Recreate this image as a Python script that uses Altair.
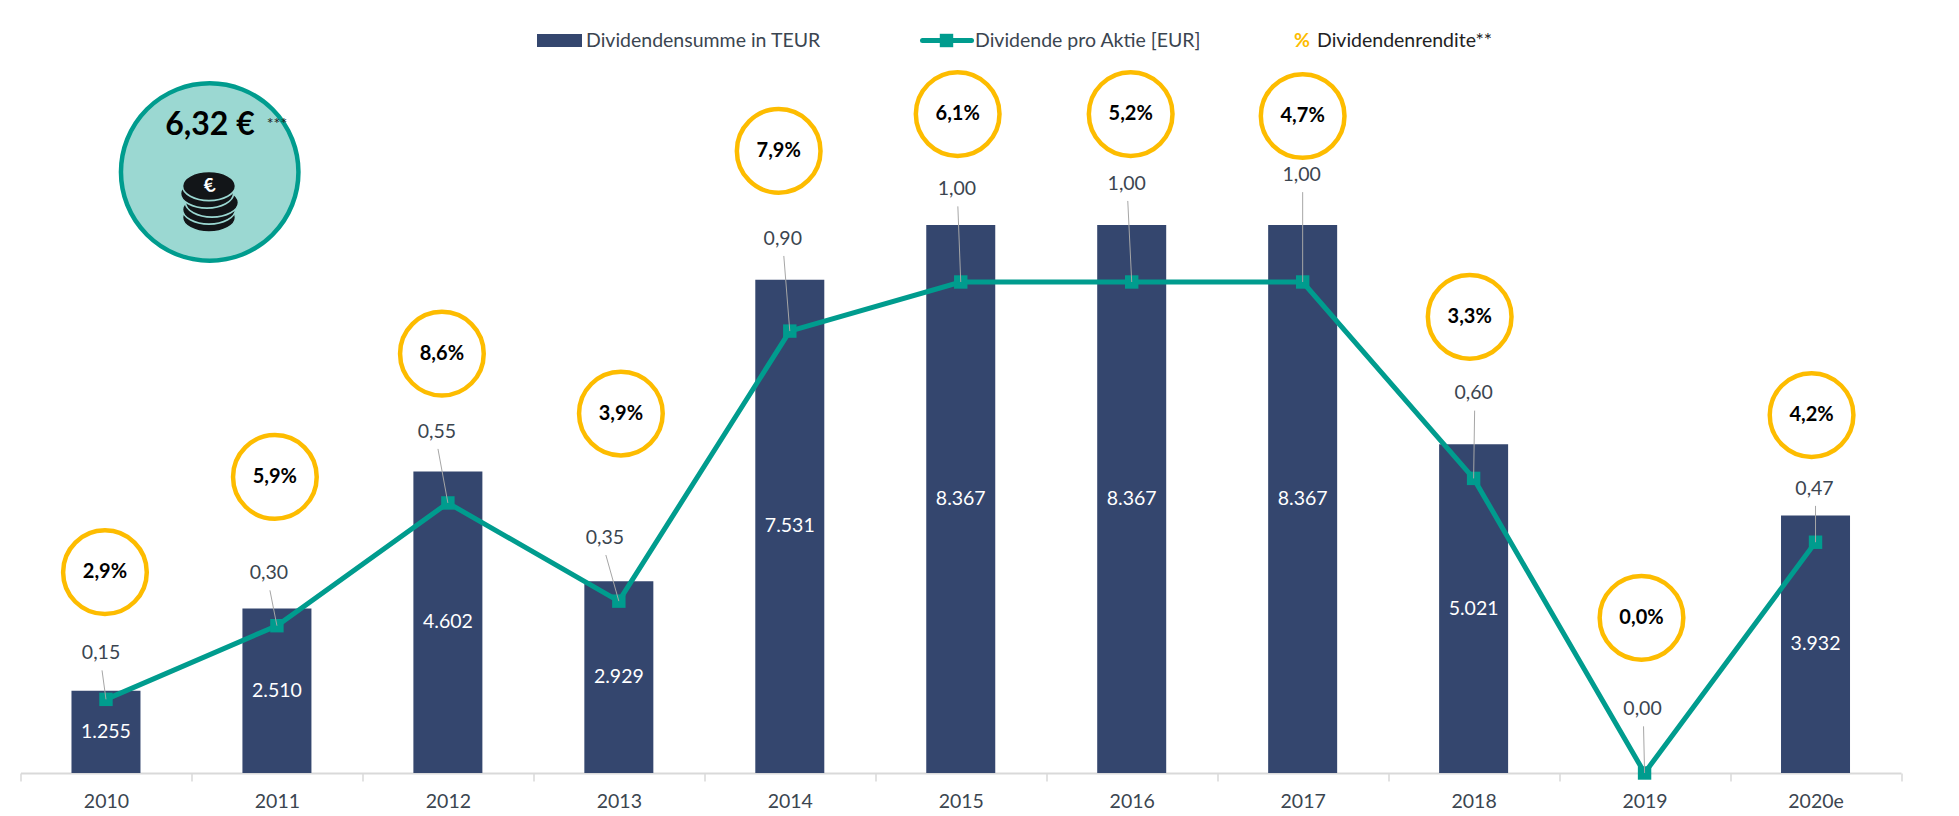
import altair as alt
import pandas as pd

# ---- chart values ----
years = ["2010", "2011", "2012", "2013", "2014", "2015", "2016", "2017", "2018", "2019", "2020e"]
sums = [1255, 2510, 4602, 2929, 7531, 8367, 8367, 8367, 5021, 0, 3932]
sum_labels = ["1.255", "2.510", "4.602", "2.929", "7.531", "8.367", "8.367", "8.367", "5.021", "", "3.932"]
dividends = [0.15, 0.30, 0.55, 0.35, 0.90, 1.00, 1.00, 1.00, 0.60, 0.00, 0.47]
dividend_labels = ["0,15", "0,30", "0,55", "0,35", "0,90", "1,00", "1,00", "1,00", "0,60", "0,00", "0,47"]
yields = ["2,9%", "5,9%", "8,6%", "3,9%", "7,9%", "6,1%", "5,2%", "4,7%", "3,3%", "0,0%", "4,2%"]

# ---- annotation placement, in category units and EUR units ----
badge_x = [-0.006, -0.012, -0.035, 0.012, -0.065, -0.018, -0.006, 0.0, -0.023, -0.018, -0.023]
badge_eur = [0.409, 0.603, 0.854, 0.732, 1.267, 1.342, 1.342, 1.338, 0.929, 0.316, 0.729]
label_x = [-0.029, -0.047, -0.064, -0.082, -0.041, -0.023, -0.029, -0.006, 0.0, -0.012, -0.006]
label_eur = [0.244, 0.407, 0.695, 0.479, 1.088, 1.189, 1.200, 1.218, 0.773, 0.130, 0.579]

FONT = "Lato"
NAVY = "#34466E"
TEAL = "#009C8E"
GOLD = "#FDBC00"
MINT = "#9BD8D2"
TEXT = "#3B4550"
W, H = 1880.5, 765
EUR_MAX = 1.558
SUM_MAX = 11680

df = pd.DataFrame({
    "year": years, "sum": sums, "sum_label": sum_labels, "div": dividends,
    "div_label": dividend_labels, "yield": yields,
})
df["idx"] = range(len(df))
df["half"] = df["sum"] / 2
df["badge_pos"] = df["idx"] + badge_x
df["badge_eur"] = badge_eur
df["label_pos"] = df["idx"] + label_x
df["label_eur"] = label_eur
df["lead_pos"] = df["label_pos"] + 0.006
df["lead_eur"] = df["label_eur"] - 0.035

band = alt.Scale(domain=years, paddingInner=0, paddingOuter=0)
sum_y = alt.Scale(domain=[0, SUM_MAX], nice=False)
eur_y = alt.Scale(domain=[0, EUR_MAX], nice=False)
idx_x = alt.Scale(domain=[-0.5, 10.5], nice=False, zero=False)
base = alt.Chart(df)

bars = base.mark_bar(size=69, color=NAVY).encode(
    x=alt.X("year:N", scale=band, sort=years, title=None, axis=alt.Axis(
        labelAngle=0, labelFont=FONT, labelFontSize=19.5, labelColor=TEXT, labelPadding=11,
        domainColor="#D9D9D9", domainWidth=2.2, tickColor="#D9D9D9", tickWidth=1.5,
        tickSize=8, tickBand="extent", grid=False)),
    y=alt.Y("sum:Q", scale=sum_y, axis=None),
)
bar_text = base.mark_text(font=FONT, fontSize=19.5, color="white", baseline="middle").encode(
    x=alt.X("year:N", scale=band, sort=years, axis=None),
    y=alt.Y("half:Q", scale=sum_y, axis=None),
    text="sum_label:N",
)
line = base.mark_line(color=TEAL, strokeWidth=5).encode(
    x=alt.X("year:N", scale=band, sort=years, axis=None),
    y=alt.Y("div:Q", scale=eur_y, axis=None),
)
markers = base.mark_point(shape="square", size=180, filled=True, color=TEAL, opacity=1).encode(
    x=alt.X("year:N", scale=band, sort=years, axis=None),
    y=alt.Y("div:Q", scale=eur_y, axis=None),
)
leaders = alt.Chart(df.assign(center=df["idx"].astype(float))).mark_rule(color="#A6A6A6", strokeWidth=1).encode(
    x=alt.X("lead_pos:Q", scale=idx_x, axis=None),
    x2="center:Q",
    y=alt.Y("lead_eur:Q", scale=eur_y, axis=None),
    y2="div:Q",
)
div_text = base.mark_text(font=FONT, fontSize=19.5, color=TEXT, baseline="middle").encode(
    x=alt.X("label_pos:Q", scale=idx_x, axis=None),
    y=alt.Y("label_eur:Q", scale=eur_y, axis=None),
    text="div_label:N",
)
rings = base.mark_point(shape="circle", size=7000, filled=False, stroke=GOLD, strokeWidth=4.5, opacity=1,
                        fill="white", fillOpacity=1).encode(
    x=alt.X("badge_pos:Q", scale=idx_x, axis=None),
    y=alt.Y("badge_eur:Q", scale=eur_y, axis=None),
)
ring_text = base.mark_text(font=FONT, fontSize=20, fontWeight="bold", color="black", baseline="middle").encode(
    x=alt.X("badge_pos:Q", scale=idx_x, axis=None),
    y=alt.Y("badge_eur:Q", scale=eur_y, axis=None),
    text="yield:N",
)

# ---- decoration: KPI disc, coin stack and hand-made legend, placed in plot pixels ----
one = alt.Chart(pd.DataFrame({"a": [0]}))
disc = one.mark_point(shape="circle", size=31500, filled=False, stroke=TEAL, strokeWidth=4.5, fill=MINT,
                      fillOpacity=1, opacity=1).encode(x=alt.value(189.2), y=alt.value(164))
kpi = one.mark_text(font=FONT, fontSize=32, fontWeight="bold", color="black", baseline="middle", text="6,32 €").encode(
    x=alt.value(189.5), y=alt.value(117))
stars = one.mark_text(font=FONT, fontSize=16, color="#222222", baseline="middle", text="***").encode(
    x=alt.value(256.5), y=alt.value(116))

coin_px = [209, 209, 212, 207, 209]
coin_py = [217.5, 209.5, 202.5, 193.5, 186]
coins_df = pd.DataFrame({"px": [v - 20.5 for v in coin_px], "py": [v - 8 for v in coin_py], "o": range(5)})
coins = alt.Chart(coins_df).mark_point(
    shape="M-1,0C-1,-0.3 -0.55,-0.55 0,-0.55C0.55,-0.55 1,-0.3 1,0C1,0.3 0.55,0.55 0,0.55C-0.55,0.55 -1,0.3 -1,0Z",
    size=2809, filled=True, fill="#121518", stroke=MINT, strokeWidth=1.6, opacity=1, fillOpacity=1,
).encode(
    x=alt.X("px:Q", scale=None), y=alt.Y("py:Q", scale=None), order="o:Q",
)
euro = one.mark_text(font=FONT, fontSize=19, fontWeight="bold", color="white", baseline="middle", angle=345,
                     text="€").encode(x=alt.value(189), y=alt.value(178))

leg_rect = one.mark_rect(color=NAVY).encode(
    x=alt.value(516.5), x2=alt.value(561.5), y=alt.value(26), y2=alt.value(39))
leg_line = one.mark_rule(color=TEAL, strokeWidth=5, strokeCap="round").encode(
    x=alt.value(902), x2=alt.value(951), y=alt.value(32.5))
leg_mark = one.mark_point(shape="square", size=180, filled=True, color=TEAL, opacity=1).encode(
    x=alt.value(926), y=alt.value(32.5))


def legend_text(text, x, color=TEXT, **kw):
    return one.mark_text(font=FONT, fontSize=19.5, color=color, align="left", baseline="middle", text=text, **kw).encode(
        x=alt.value(x), y=alt.value(33))


leg1 = legend_text("Dividendensumme in TEUR", 565.5)
leg2 = legend_text("Dividende pro Aktie [EUR]", 954.5)
leg3a = legend_text("%", 1273.5, color=GOLD, fontWeight="bold")
leg3b = legend_text("Dividendenrendite**", 1296.5, color="#222222")

chart = alt.layer(
    bars, bar_text, line, markers, leaders, div_text, rings, ring_text,
    disc, kpi, stars, coins, euro,
    leg_rect, leg_line, leg_mark, leg1, leg2, leg3a, leg3b,
).resolve_scale(x="independent", y="independent").properties(
    width=W, height=H, background="white",
    padding={"left": 12.5, "top": 0, "right": 50, "bottom": 35},
    autosize=alt.AutoSizeParams(type="none"),
).configure_view(stroke=None)

chart.save("out.html", embed_options={"renderer": "svg", "actions": False})
